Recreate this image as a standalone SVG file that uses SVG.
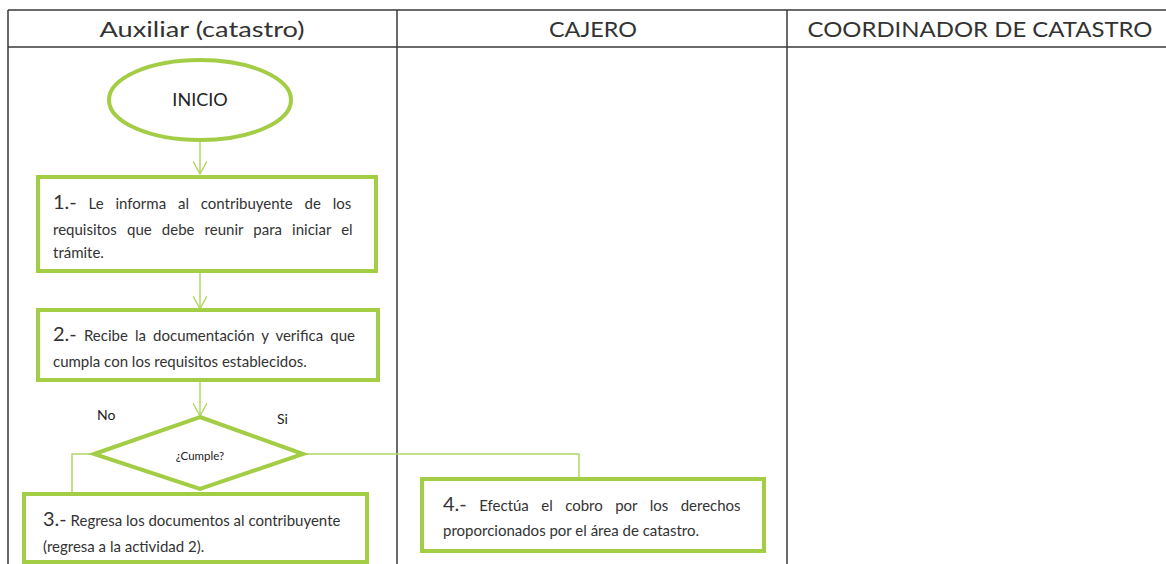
<svg xmlns="http://www.w3.org/2000/svg" width="1166" height="564" viewBox="0 0 1166 564">
<style>
.grid{stroke:#3a3a3a;stroke-width:1.5;fill:none}
.hdr{font-family:Lato,"Open Sans",sans-serif;font-size:22px;fill:#333;text-anchor:middle}
.box{fill:#fff;stroke:#a3cd45;stroke-width:4}
.t{font-family:Lato,"Open Sans",sans-serif;font-size:15px;fill:#333}
.n{font-size:20px}
.lbl{font-family:Lato,"Open Sans",sans-serif;font-size:14px;fill:#222}
.con{stroke:#b3d665;stroke-width:1.5;fill:none}
</style>
<defs>
<marker id="arr" markerWidth="16" markerHeight="14" refX="14" refY="7" orient="auto" markerUnits="userSpaceOnUse">
<path d="M1,0 L14,7 L1,14" fill="none" stroke="#b3d665" stroke-width="1.5"/>
</marker>
</defs>
<rect width="1166" height="564" fill="#fff"/>
<g id="table">
<path class="grid" d="M8,10 H1166 M8,47 H1166 M8,10 V564 M397,10 V564 M787,10 V564"/>
<text class="hdr" x="202" y="37" textLength="205" lengthAdjust="spacingAndGlyphs">Auxiliar (catastro)</text>
<text class="hdr" x="593" y="37" textLength="88" lengthAdjust="spacingAndGlyphs">CAJERO</text>
<text class="hdr" x="980" y="37" textLength="345" lengthAdjust="spacingAndGlyphs">COORDINADOR DE CATASTRO</text>
</g>
<g id="connectors">
<path class="con" d="M200,142 V174" marker-end="url(#arr)"/>
<path class="con" d="M200,273 V309" marker-end="url(#arr)"/>
<path class="con" d="M200,382 V416" marker-end="url(#arr)"/>
<path class="con" d="M94,454 H72 V492"/>
<path class="con" d="M303,454 H579 V477"/>
</g>
<g id="inicio">
<ellipse cx="200" cy="100" rx="91" ry="40" fill="#fff" stroke="#a3cd45" stroke-width="4"/>
<text class="lbl" x="200" y="106" text-anchor="middle" style="font-size:18px">INICIO</text>
</g>
<g id="paso1">
<rect class="box" x="38" y="177" width="338" height="94"/>
<text class="t" x="53" y="209" word-spacing="8"><tspan class="n">1.-</tspan> Le informa al contribuyente de los</text>
<text class="t" x="53" y="235" word-spacing="6.3">requisitos que debe reunir para iniciar el</text>
<text class="t" x="53" y="258">trámite.</text>
</g>
<g id="paso2">
<rect class="box" x="38" y="310" width="340" height="70"/>
<text class="t" x="53" y="341" word-spacing="3.3"><tspan class="n">2.-</tspan> Recibe la documentación y verifica que</text>
<text class="t" x="53" y="367">cumpla con los requisitos establecidos.</text>
</g>
<g id="decision">
<polygon points="200,417 303,454 200,489 94,454" fill="#fff" stroke="#a3cd45" stroke-width="4"/>
<text class="lbl" x="200" y="460" text-anchor="middle" style="font-size:11.5px">¿Cumple?</text>
<text class="lbl" x="97" y="420">No</text>
<text class="lbl" x="277" y="424">Si</text>
</g>
<g id="paso3">
<rect class="box" x="24" y="494" width="343" height="68"/>
<text class="t" x="43" y="526"><tspan class="n">3.-</tspan> Regresa los documentos al contribuyente</text>
<text class="t" x="43" y="552">(regresa a la actividad 2).</text>
</g>
<g id="paso4">
<rect class="box" x="422" y="479" width="342" height="72"/>
<text class="t" x="443" y="511" word-spacing="8.6"><tspan class="n">4.-</tspan> Efectúa el cobro por los derechos</text>
<text class="t" x="443" y="536">proporcionados por el área de catastro.</text>
</g>
</svg>
